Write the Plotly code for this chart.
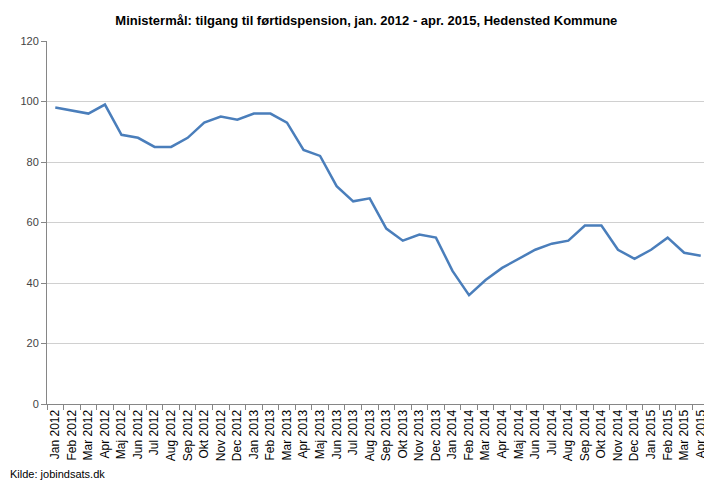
import plotly.graph_objects as go

months = ["Jan", "Feb", "Mar", "Apr", "Maj", "Jun", "Jul", "Aug", "Sep", "Okt", "Nov", "Dec"]
categories = [f"{m} {y}" for y in (2012, 2013, 2014) for m in months] + [
    "Jan 2015", "Feb 2015", "Mar 2015", "Apr 2015"]
values = [98, 97, 96, 99, 89, 88, 85, 85, 88, 93, 95, 94,
          96, 96, 93, 84, 82, 72, 67, 68, 58, 54, 56, 55,
          44, 36, 41, 45, 48, 51, 53, 54, 59, 59, 51, 48,
          51, 55, 50, 49]
y_ticks = [0, 20, 40, 60, 80, 100, 120]
title = "Ministermål: tilgang til førtidspension, jan. 2012 - apr. 2015, Hedensted Kommune"
source = "Kilde: jobindsats.dk"

font = "Liberation Sans Narrow, Liberation Sans, Arial, sans-serif"

W, H = 704, 476
L, R, T, B = 39, 3, 33, 80
pw, ph = W - L - R, H - T - B

fig = go.Figure(go.Scatter(
    x=categories, y=values, mode="lines",
    line=dict(color="#4A7EBB", width=2.5),
))

fig.update_layout(
    width=W, height=H,
    margin=dict(l=L, r=R, t=T, b=B),
    paper_bgcolor="white", plot_bgcolor="white",
    showlegend=False,
    font=dict(family=font, size=11, color="#000000"),
    title=dict(text="<b>" + title + "</b>", x=0.509, xanchor="center",
               y=1 - 12 / H, yanchor="middle",
               font=dict(family=font, size=13, color="#000000")),
    xaxis=dict(
        type="category", tickangle=-90, showgrid=False,
        showline=True, linecolor="#868686", linewidth=1,
        ticks="outside", tickson="boundaries", ticklen=5, tickcolor="#868686",
        tickfont=dict(family=font, size=12, color="#000000"),
        range=[-0.5, len(categories) - 0.5],
    ),
    yaxis=dict(
        range=[0, 120], tickvals=y_ticks, showgrid=True, gridcolor="#D0D0D0",
        gridwidth=1, showline=True, linecolor="#868686", linewidth=1,
        ticks="outside", ticklen=5, tickcolor="#868686", zeroline=False,
        tickfont=dict(family=font, size=11, color="#444444"),
    ),
    annotations=[dict(text=source, xref="paper", yref="paper",
                      x=-L / pw, y=-(B - 2) / ph, xanchor="left", yanchor="bottom",
                      showarrow=False,
                      font=dict(family=font, size=11, color="#000000"))],
)

fig.write_html("out.html")
